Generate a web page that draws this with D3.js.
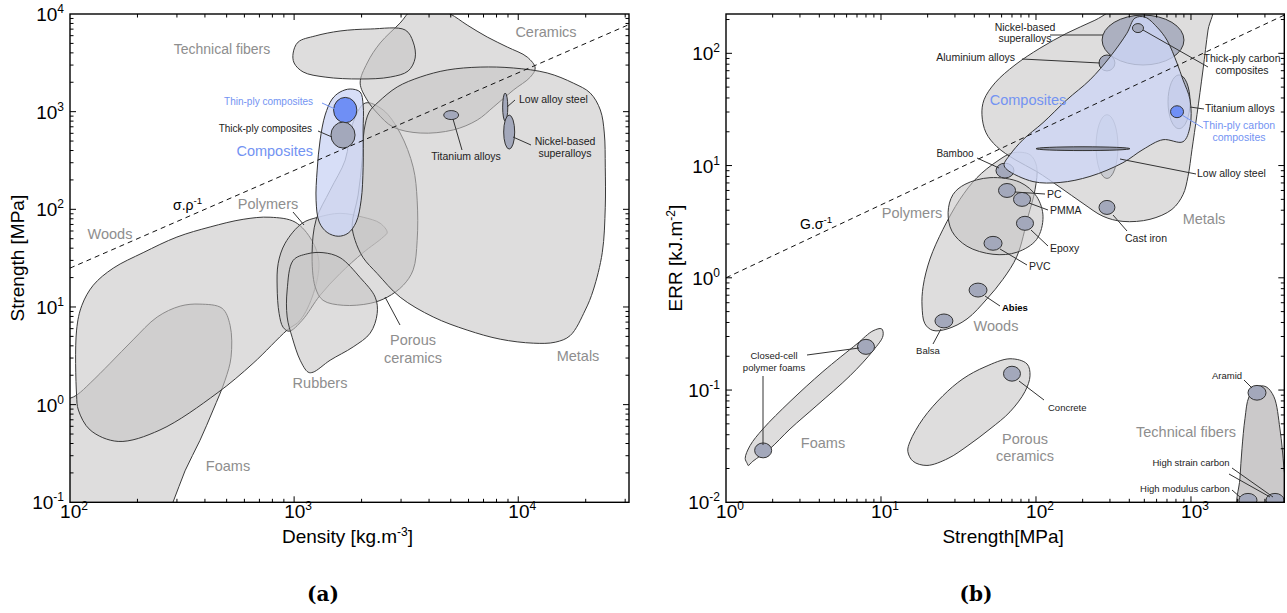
<!DOCTYPE html>
<html>
<head>
<meta charset="utf-8">
<script src="https://cdn.jsdelivr.net/npm/d3@7"></script>
<style>
  body { margin: 0; background: #fff; }
  text { font-family: "Liberation Sans", Arial, sans-serif; }
  text.caption { font-family: "DejaVu Serif", serif; font-weight: bold; }
</style>
</head>
<body>
<svg id="chart" width="1287" height="613"></svg>
<script>
// ---------- panel (a): density vs strength ----------
const densityDomain = [100, 31200];
const strengthDomainA = [0.1, 1e4];

// blob outlines, [density kg/m3, strength MPa]
const foamsA = [[81,0.88],[107,1.25],[123,1.66],[151,2.65],[191,4.6],[245,7.9],[310,10.2],[380,10.7],[477,9.7],[518,6.5],[523,3.06],[492,1.78],[435,0.88],[380,0.43],[326,0.21],[288,0.1],[252,0.052],[81,0.052]];
const woodsA = [[107,1.25],[107,5.8],[113,10.4],[127,16.7],[156,25],[212,36],[300,52],[422,66],[592,79],[781,83],[1010,74],[1200,48],[1290,29],[1220,13.8],[1064,7.3],[931,5.8],[656,2.65],[453,1.31],[252,0.55],[164,0.42],[123,0.55],[109,0.88]];
const polymersA = [[1086,72],[912,45],[849,28],[840,16],[857,8.6],[893,6.2],[950,5.65],[1086,7.3],[1306,13.2],[1603,22],[2032,36],[2497,52],[2602,58],[2421,72],[2032,83],[1603,91],[1280,83]];
const porousA = [[2075,1225],[2497,1038],[2972,604],[3398,270],[3540,124],[3540,48],[3398,24],[3069,16.7],[2602,12.6],[2185,10.9],[1655,10.4],[1346,11.7],[1242,16],[1203,36],[1253,78],[1448,157],[1690,319],[1815,729]];
const ceramicsA = [[1971,1960],[2118,3150],[2421,5050],[2972,8090],[3365,11000],[4175,11500],[4970,10000],[5916,7710],[7271,5810],[8933,4590],[10970,3620],[11900,2800],[11320,2260],[9500,1660],[7730,1110],[6561,820],[5129,650],[3652,604],[2767,695],[2348,968],[2118,1315]];
const metalsA = [[2371,1250],[2884,1790],[3652,2260],[4819,2670],[6761,2860],[9500,2800],[13470,2490],[17610,1960],[20960,1550],[23240,1040],[24210,604],[24450,270],[24450,105],[23710,36],[21620,14.9],[19910,9.3],[17060,5.1],[14630,4.36],[11670,4.26],[8313,4.68],[5916,5.8],[4175,7.9],[2972,12.6],[2348,22],[2032,32],[1872,48],[1815,69],[1930,140],[2011,319],[2054,648],[2162,990]];
const rubbersA = [[990,30],[1143,35],[1346,36],[1603,32],[1971,20],[2300,12.6],[2348,8.6],[2185,5.4],[1834,3.9],[1448,2.85],[1216,2.15],[1155,2.15],[1064,2.85],[980,4.9],[931,7.9],[931,14.9]];
const fibersA = [[990,3980],[1042,5160],[1242,5960],[1603,6700],[2185,7020],[3130,6860],[3398,5160],[3467,3540],[3227,2610],[2683,2260],[1971,2160],[1375,2260],[1097,2550],[1000,3150]];
const compositesA = [[1778,1706],[1971,1588],[2032,1169],[2032,648],[2032,270],[1991,124],[1892,74],[1742,57],[1572,53],[1404,58],[1294,74],[1253,124],[1267,252],[1306,512],[1375,923],[1478,1346],[1603,1588]];

// material bubbles: [name, density min, max, strength min, max]
const materialsA = [
  ["thinPly", 1500, 1905, 770, 1400],
  ["thickPly", 1460, 1870, 424, 782],
  ["titanium", 4650, 5420, 830, 1026],
  ["lowAlloy", 8520, 8980, 800, 1550],
  ["nickel", 8610, 9640, 414, 923]
];
const guideA = [[100, 25], [31200, 7800]];

// ---------- panel (b): strength vs ERR ----------
const strengthDomainB = [1, 4000];
const errDomain = [0.01, 224];

// blob outlines, [strength MPa, ERR kJ/m2]
const woodsB = [[18.4,0.56],[18.7,0.84],[20.7,1.47],[25.1,2.7],[32.3,5],[41.6,7.8],[56,10.9],[71.1,13],[91.5,12.5],[101,9.8],[98.6,6.1],[88.8,3.5],[75.4,1.56],[61.2,0.97],[48.3,0.65],[35.9,0.43],[26.7,0.35],[21.6,0.34],[19.2,0.39]];
const polymersB = [[27.1,3.83],[29.1,5.5],[34.8,6.8],[50.5,7.8],[78.8,7.1],[101,5.3],[111,3.5],[101,2.2],[75.4,1.69],[52.8,1.62],[35.9,1.91],[28.7,2.6]];
const metalsB = [[44.8,28.4],[46.2,38.5],[54.4,54.5],[73.2,78.7],[106,111],[158,151],[240,197],[375,268],[1366,268],[1288,161],[1195,71],[1093,28.4],[1015,13.9],[957,8],[888,5.5],[754,4.07],[544,3.32],[364,3.18],[271,3.53],[201,4.6],[143,6.4],[101,8.85],[73.2,11.3],[56,14.7],[47.6,19.6]];
const compositesB = [[65,9.2],[95.7,7.2],[143,7.07],[223,8],[364,10.6],[490,13.9],[660,17],[888,16.3],[986,22.2],[986,38.5],[888,58],[812,82],[700,131],[604,171],[505,210],[435,206],[386,151],[300,92.7],[223,58],[158,38.5],[111,24.1],[82.4,17],[68,12.5],[62.2,10.2]];
const foamsB = [[1.37,0.0222],[1.33,0.0246],[1.43,0.032],[1.73,0.045],[2.59,0.079],[4.22,0.146],[7,0.258],[8.88,0.337],[10.1,0.351],[10.3,0.304],[8.88,0.224],[6.31,0.134],[3.86,0.073],[2.59,0.045],[1.92,0.030],[1.49,0.0232],[1.39,0.0213]];
const porousB = [[14.9,0.0284],[15.4,0.0348],[18.7,0.0557],[25.1,0.089],[33.8,0.126],[46.9,0.161],[68,0.19],[87.5,0.171],[91.5,0.134],[84.9,0.097],[68,0.064],[50.5,0.045],[36.4,0.032],[27.1,0.0246],[19.8,0.0213],[16.1,0.0232]];
const fibersB = [[2010,0.008],[2070,0.0164],[2133,0.030],[2230,0.0557],[2367,0.087],[2667,0.107],[3048,0.107],[3430,0.087],[3750,0.045],[3981,0.020],[4162,0.008],[3000,0.005]];

// bubbles under the composites envelope
const metalMaterialsB = [
  ["nickelB", 267, 901, 78.7, 219],
  ["aluminium", 255, 323, 69.7, 96.6],
  ["titaniumB", 711, 986, 21.3, 64.2],
  ["lowAlloyB", 244, 338, 7.67, 28.4],
  ["bamboo", 55.2, 72.1, 7.75, 10.5]
];
// bubbles on top
const materialsB = [
  ["thickPlyB", 419, 494, 153, 184],
  ["thinPlyB", 738, 895, 26.7, 34.1],
  ["steelBand", 100, 404, 13.6, 14.7],
  ["castIron", 255, 323, 3.67, 4.89],
  ["pc", 57.3, 73.8, 5.2, 6.92],
  ["pmma", 71.6, 92.2, 4.33, 5.76],
  ["epoxy", 74.8, 96.4, 2.65, 3.53],
  ["pvc", 46.2, 60.4, 1.76, 2.34],
  ["abies", 37, 48.3, 0.674, 0.897],
  ["balsa", 22.3, 29.1, 0.358, 0.476],
  ["foam1", 7.05, 9.08, 0.208, 0.283],
  ["foam2", 1.53, 1.97, 0.0249, 0.0338],
  ["concrete", 61.7, 79.4, 0.12, 0.163],
  ["aramid", 2333, 3048, 0.0813, 0.110],
  ["hmCarbon", 2040, 2667, 0.0091, 0.012],
  ["hsCarbon", 3048, 3981, 0.0091, 0.012]
];
const guideB = [[1, 1.0], [4000, 219]];

// ---------- styles ----------
const GREY = "#8e8e8e", BLUE = "#7393f2", INK = "#222";
const blobStyle = { fill: "#c6c4c5", op: 0.58, stroke: "#3a3a3a" };
const compStyle = { fill: "#cdd6f5", op: 0.8, stroke: "#333" };
const fiberStyleB = { fill: "#b9b7b8", op: 0.75, stroke: "#3a3a3a" };
const bubbleFill = {
  thinPly: ["#6f8ff5", 1], thinPlyB: ["#6f8ff5", 1],
  nickelB: ["#a3a8bb", 0.85], titaniumB: ["#a3a8bb", 0.75],
  lowAlloyB: ["#a3a8bb", 0.35], steelBand: ["#8f94a6", 1]
};

const svg = d3.select("#chart");

function makeScales(xd, xr, yd, yr) {
  return {
    x: d3.scaleLog().domain(xd).range(xr),
    y: d3.scaleLog().domain(yd).range(yr)
  };
}

function addClip(s, id) {
  const [x0, x1] = s.x.range(), [y0, y1] = s.y.range();
  svg.append("clipPath").attr("id", id)
    .append("rect").attr("x", x0).attr("y", y1).attr("width", x1 - x0).attr("height", y0 - y1);
}

function drawAxes(g, s, xLabel, yLabel, yTitleX) {
  const [x0, x1] = s.x.range(), [y0, y1] = s.y.range();
  const isMajor = v => Math.abs(Math.log10(v) - Math.round(Math.log10(v))) < 1e-6;
  const ax = g.append("g").attr("stroke", "#000").attr("stroke-width", 1);
  s.x.ticks().forEach(v => {
    const px = s.x(v), L = isMajor(v) ? 6 : 3.5;
    if (px <= x0 + 0.5 || px >= x1 - 0.5) return;
    ax.append("line").attr("x1", px).attr("x2", px).attr("y1", y0).attr("y2", y0 - L);
    ax.append("line").attr("x1", px).attr("x2", px).attr("y1", y1).attr("y2", y1 + L);
  });
  s.y.ticks().forEach(v => {
    const py = s.y(v), L = isMajor(v) ? 6 : 3.5;
    if (py >= y0 - 0.5 || py <= y1 + 0.5) return;
    ax.append("line").attr("x1", x0).attr("x2", x0 + L).attr("y1", py).attr("y2", py);
    ax.append("line").attr("x1", x1).attr("x2", x1 - L).attr("y1", py).attr("y2", py);
  });
  g.append("rect").attr("x", x0).attr("y", y1).attr("width", x1 - x0).attr("height", y0 - y1)
    .attr("fill", "none").attr("stroke", "#000").attr("stroke-width", 1.4);

  const pow = (t, v) => {
    const e = Math.round(Math.log10(v));
    t.append("tspan").text("10");
    t.append("tspan").attr("dy", -8).attr("font-size", 12).text(e);
  };
  s.x.ticks().filter(isMajor).forEach(v => {
    const t = g.append("text").attr("x", s.x(v) + 4).attr("y", y0 + 16)
      .attr("text-anchor", "middle").attr("font-size", 19).attr("fill", "#000");
    pow(t, v);
  });
  s.y.ticks().filter(isMajor).forEach(v => {
    const t = g.append("text").attr("x", x0 - 6).attr("y", s.y(v) + 7)
      .attr("text-anchor", "end").attr("font-size", 19).attr("fill", "#000");
    pow(t, v);
  });

  const sup = (t, parts) => {
    parts.forEach(p => {
      if (p.sup) t.append("tspan").attr("dy", -7).attr("font-size", 12).text(p.sup);
      else t.append("tspan").attr("dy", p.back ? 7 : 0).text(p.txt);
    });
  };
  const xt = g.append("text").attr("x", (x0 + x1) / 2 - 2).attr("y", y0 + 41)
    .attr("text-anchor", "middle").attr("font-size", 19).attr("fill", "#000");
  sup(xt, xLabel);
  const cy = (y0 + y1) / 2;
  const yt = g.append("text").attr("transform", `translate(${yTitleX},${cy}) rotate(-90)`)
    .attr("text-anchor", "middle").attr("font-size", 19).attr("fill", "#000");
  sup(yt, yLabel);
}

function drawBlob(g, s, pts, st) {
  const line = d3.line().x(d => s.x(d[0])).y(d => s.y(d[1]))
    .curve(d3.curveCatmullRomClosed.alpha(0.5));
  g.append("path").datum(pts).attr("d", line)
    .attr("fill", st.fill).attr("fill-opacity", st.op)
    .attr("stroke", st.stroke).attr("stroke-width", 1);
}

function drawBubbles(g, s, rows) {
  rows.forEach(([name, xa, xb, ya, yb]) => {
    const [f, op] = bubbleFill[name] || ["#a3a8bb", 1];
    const cx = (s.x(xa) + s.x(xb)) / 2, cy = (s.y(ya) + s.y(yb)) / 2;
    g.append("ellipse").attr("cx", cx).attr("cy", cy)
      .attr("rx", Math.abs(s.x(xb) - s.x(xa)) / 2).attr("ry", Math.abs(s.y(yb) - s.y(ya)) / 2)
      .attr("fill", f).attr("fill-opacity", op)
      .attr("stroke", "#333").attr("stroke-width", 1).attr("stroke-opacity", op < 0.5 ? 0.5 : 1);
  });
}

function drawGuide(g, s, pts) {
  g.append("path").datum(pts)
    .attr("d", d3.line().x(d => s.x(d[0])).y(d => s.y(d[1])))
    .attr("fill", "none").attr("stroke", "#111").attr("stroke-width", 1)
    .attr("stroke-dasharray", "5,4");
}

function drawLeaders(g, rows) {
  rows.forEach(([a, b, col]) => {
    g.append("line").attr("x1", a[0]).attr("y1", a[1]).attr("x2", b[0]).attr("y2", b[1])
      .attr("stroke", col || "#333").attr("stroke-width", 1);
  });
}

function drawLabels(g, rows) {
  rows.forEach(([txt, x, y, anchor, size, color, weight]) => {
    const t = g.append("text").attr("x", x).attr("y", y).attr("text-anchor", anchor)
      .attr("font-size", size).attr("fill", color || INK).attr("font-weight", weight || "normal");
    if (Array.isArray(txt)) {
      t.append("tspan").text(txt[0]);
      t.append("tspan").attr("dy", -6).attr("font-size", size * 0.7).text(txt[1]);
    } else t.text(txt);
  });
}

// ================= panel (a) =================
const sA = makeScales(densityDomain, [70, 629], strengthDomainA, [502.3, 14]);
addClip(sA, "clipA");
const gA = svg.append("g");
const plotA = gA.append("g").attr("clip-path", "url(#clipA)");
[foamsA, woodsA, polymersA, porousA, ceramicsA, metalsA, rubbersA, fibersA]
  .forEach(p => drawBlob(plotA, sA, p, blobStyle));
drawBlob(plotA, sA, compositesA, compStyle);
drawGuide(plotA, sA, guideA);
drawLeaders(gA, [
  [[293, 212], [304, 225]], [[385, 297], [400, 325]],
  [[322, 103], [335, 109], BLUE], [[318, 131], [332, 137]],
  [[453, 119], [462, 150]], [[507, 107], [515, 100]], [[513, 137], [531, 145]]
]);
drawBubbles(plotA, sA, materialsA);
drawLabels(gA, [
  ["Technical fibers", 222, 54, "middle", 14, GREY],
  ["Ceramics", 546, 37, "middle", 14.5, GREY],
  ["Composites", 313, 156, "end", 14.5, BLUE],
  ["Thin-ply composites", 313, 105, "end", 10, BLUE],
  ["Thick-ply composites", 312, 132, "end", 10],
  ["Polymers", 268, 209, "middle", 14.5, GREY],
  ["Woods", 110, 239, "middle", 14.5, GREY],
  ["Titanium alloys", 466, 160, "middle", 10.5],
  ["Low alloy steel", 519, 103, "start", 10.5],
  ["Nickel-based", 565, 145, "middle", 10.5],
  ["superalloys", 565, 157, "middle", 10.5],
  ["Porous", 413, 345, "middle", 14.5, GREY],
  ["ceramics", 413, 363, "middle", 14.5, GREY],
  ["Metals", 578, 361, "middle", 14.5, GREY],
  ["Rubbers", 320, 388, "middle", 14.5, GREY],
  ["Foams", 228, 471, "middle", 14.5, GREY],
  [["σ.ρ", "-1"], 173, 210, "start", 14, "#000"]
]);
drawAxes(gA, sA,
  [{ txt: "Density [kg.m" }, { sup: "-3" }, { txt: "]", back: true }],
  [{ txt: "Strength [MPa]" }], 24);

// ================= panel (b) =================
const sB = makeScales(strengthDomainB, [726, 1284.3], errDomain, [502.3, 14]);
addClip(sB, "clipB");
const gB = svg.append("g");
const plotB = gB.append("g").attr("clip-path", "url(#clipB)");
[woodsB, polymersB, metalsB].forEach(p => drawBlob(plotB, sB, p, blobStyle));
drawBubbles(plotB, sB, metalMaterialsB);
drawBlob(plotB, sB, compositesB, compStyle);
[foamsB, porousB].forEach(p => drawBlob(plotB, sB, p, blobStyle));
drawBlob(plotB, sB, fibersB, fiberStyleB);
drawGuide(plotB, sB, guideB);
drawLeaders(gB, [
  [[1050, 35], [1103, 35]], [[1022, 59], [1100, 63]], [[1143, 30], [1208, 67]],
  [[1190, 107], [1204, 109]], [[1182, 115], [1203, 128], BLUE], [[1120, 159], [1196, 174]],
  [[1113, 215], [1127, 231]], [[977, 158], [999, 168]], [[1015, 192], [1045, 194]],
  [[1029, 203], [1048, 210]], [[1031, 230], [1048, 246]], [[1000, 249], [1027, 265]],
  [[985, 296], [1000, 306]], [[941, 329], [933, 344]], [[807, 355], [859, 348]],
  [[763, 376], [763, 445]], [[1019, 381], [1044, 400]], [[1244, 380], [1252, 388]],
  [[1229, 474], [1270, 497]], [[1232, 468], [1273, 497]], [[1232, 490], [1240, 497]]
]);
drawBubbles(plotB, sB, materialsB);
drawLabels(gB, [
  ["Nickel-based", 1025, 31, "middle", 10.5],
  ["superalloys", 1025, 42, "middle", 10.5],
  ["Aluminium alloys", 1015, 61, "end", 10.5],
  ["Thick-ply carbon", 1242, 62, "middle", 10.5],
  ["composites", 1242, 74, "middle", 10.5],
  ["Titanium alloys", 1205, 112, "start", 10.5],
  ["Thin-ply carbon", 1239, 129, "middle", 10.5, BLUE],
  ["composites", 1239, 141, "middle", 10.5, BLUE],
  ["Low alloy steel", 1197, 177, "start", 10.5],
  ["Cast iron", 1146, 242, "middle", 10.5],
  ["Bamboo", 955, 157, "middle", 10],
  ["PC", 1047, 198, "start", 10.5],
  ["PMMA", 1050, 214, "start", 10.5],
  ["Epoxy", 1050, 252, "start", 10.5],
  ["PVC", 1029, 270, "start", 10.5],
  ["Abies", 1002, 311, "start", 9.5, "#000", "bold"],
  ["Balsa", 928, 354, "middle", 9.5],
  ["Closed-cell", 774, 359, "middle", 9.5],
  ["polymer foams", 774, 371, "middle", 9.5],
  ["Concrete", 1048, 411, "start", 9.5],
  ["Aramid", 1227, 379, "middle", 9.5],
  ["High strain carbon", 1191, 466, "middle", 9.5],
  ["High modulus carbon", 1185, 492, "middle", 9.5],
  ["Composites", 1028, 105, "middle", 14.5, BLUE],
  ["Metals", 1204, 224, "middle", 14.5, GREY],
  ["Polymers", 912, 218, "middle", 14.5, GREY],
  ["Woods", 996, 331, "middle", 14.5, GREY],
  ["Foams", 823, 448, "middle", 14.5, GREY],
  ["Porous", 1025, 444, "middle", 14.5, GREY],
  ["ceramics", 1025, 461, "middle", 14.5, GREY],
  ["Technical fibers", 1186, 437, "middle", 14.5, GREY],
  [["G.σ", "-1"], 800, 229, "start", 14, "#000"]
]);
drawAxes(gB, sB,
  [{ txt: "Strength[MPa]" }],
  [{ txt: "ERR [kJ.m" }, { sup: "-2" }, { txt: "]", back: true }], 682);

// captions
svg.append("text").attr("class", "caption").attr("x", 323).attr("y", 601)
  .attr("text-anchor", "middle").attr("font-size", 20).text("(a)");
svg.append("text").attr("class", "caption").attr("x", 976).attr("y", 601)
  .attr("text-anchor", "middle").attr("font-size", 20).text("(b)");
</script>
</body>
</html>
